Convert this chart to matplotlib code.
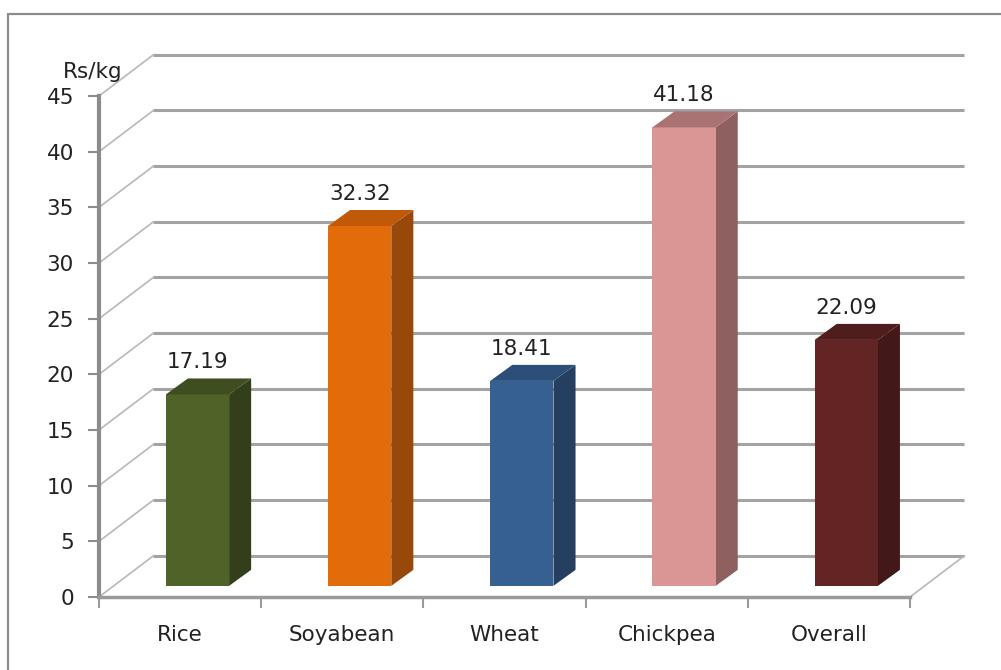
import matplotlib
matplotlib.use("Agg")
import matplotlib.pyplot as plt
from matplotlib.patches import Polygon, Rectangle

categories = ["Rice", "Soyabean", "Wheat", "Chickpea", "Overall"]
values = [17.19, 32.32, 18.41, 41.18, 22.09]
y_ticks = [0, 5, 10, 15, 20, 25, 30, 35, 40, 45]
unit_label = "Rs/kg"

front_colors = ["#4F6228", "#E36C0A", "#366092", "#D99694", "#632523"]
side_colors = ["#333F1A", "#98480A", "#243F60", "#8E6060", "#421818"]
top_colors = ["#3F4E20", "#C05A08", "#2C4F7A", "#A87372", "#4F1D1C"]

plt.rcParams["font.family"] = ["DejaVu Sans"]
FS = 15.5
TXT = "#222222"

fig = plt.figure(figsize=(10.01, 6.70), dpi=100)
fig.patch.set_facecolor("white")
# outer chart border
fig.add_artist(Rectangle((8 / 1001, -0.05), 1.2, (670 - 14) / 670 + 0.05,
                         transform=fig.transFigure, fill=False,
                         edgecolor="#8C8C8C", lw=1.6))

ax = fig.add_axes([99 / 1001, 73 / 670, 811 / 1001, 501 / 670])
n = len(categories)
ax.set_xlim(0, n)
ax.set_ylim(0, 45)

# oblique depth of the chart box (in data units)
DX, DY = 0.335, 3.7
grid_col = "#A3A3A3"

# back wall gridlines and side-wall diagonals
for t in y_ticks:
    ax.plot([DX, n + DX], [t + DY, t + DY], color=grid_col, lw=2.2,
            clip_on=False, zorder=1, solid_capstyle="butt")
    ax.plot([0, DX], [t, t + DY], color="#B8B8B8", lw=1.2,
            clip_on=False, zorder=1)
# floor right edge
ax.plot([n, n + DX], [0, DY], color="#B8B8B8", lw=1.2, clip_on=False, zorder=1)

# 3D columns
W = 0.39            # front face width
OFF = 0.107         # front face offset from category centre
FDY = 1.0           # front face lift (depth position)
SDX, SDY = 0.136, 1.44  # column depth
for i, v in enumerate(values):
    x0 = i + 0.5 + OFF - W / 2
    x1 = x0 + W
    b = FDY
    t = v + FDY
    front = Polygon([(x0, b), (x1, b), (x1, t), (x0, t)], closed=True,
                    facecolor=front_colors[i], edgecolor="none", zorder=3,
                    clip_on=False)
    side = Polygon([(x1, b), (x1 + SDX, b + SDY), (x1 + SDX, t + SDY), (x1, t)],
                   closed=True, facecolor=side_colors[i], edgecolor="none",
                   zorder=3, clip_on=False)
    top = Polygon([(x0, t), (x1, t), (x1 + SDX, t + SDY), (x0 + SDX, t + SDY)],
                  closed=True, facecolor=top_colors[i], edgecolor="none",
                  zorder=3, clip_on=False)
    for p in (side, front, top):
        ax.add_patch(p)
    ax.text((x0 + x1) / 2, t + SDY + 0.55, f"{v:.2f}",
            ha="center", va="bottom", fontsize=FS, color=TXT,
            zorder=5, clip_on=False)

# axes styling
for s in ("top", "right"):
    ax.spines[s].set_visible(False)
ax.spines["left"].set_color("#8C8C8C")
ax.spines["left"].set_linewidth(3)
ax.spines["bottom"].set_color("#9A9A9A")
ax.spines["bottom"].set_linewidth(2.5)
ax.spines["left"].set_zorder(4)
ax.spines["bottom"].set_zorder(4)
ax.patch.set_alpha(0)

ax.set_yticks(y_ticks)
ax.set_yticklabels([str(t) for t in y_ticks], fontsize=FS, color=TXT)
ax.tick_params(axis="y", direction="out", length=8, width=1.5,
               color="#8C8C8C", pad=10)

ax.set_xticks([i for i in range(n + 1)])
ax.set_xticklabels([])
ax.set_xticks([i + 0.5 for i in range(n)], minor=True)
ax.set_xticklabels(categories, minor=True, fontsize=FS, color=TXT)
ax.tick_params(axis="x", which="major", direction="out", length=8, width=1.5,
               color="#9A9A9A")
ax.tick_params(axis="x", which="minor", length=0, pad=20)

ax.text(-0.008, 1.028, unit_label, transform=ax.transAxes, ha="center",
        va="bottom", fontsize=FS, color=TXT)

fig.savefig("out.png", dpi=100, facecolor="white")
